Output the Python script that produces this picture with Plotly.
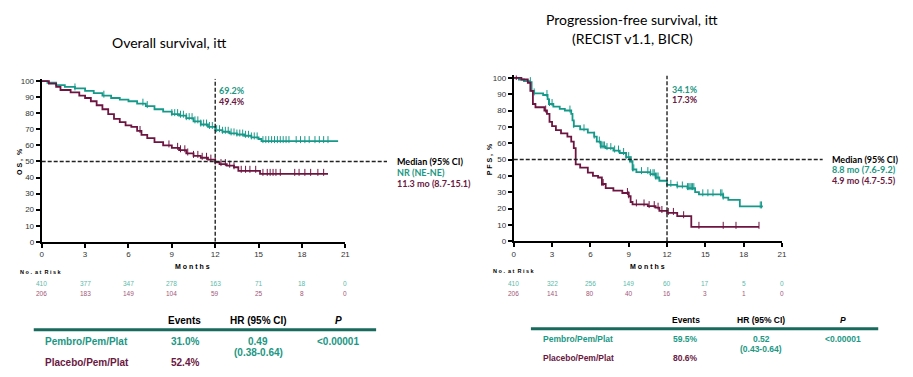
import numpy as np
import plotly.graph_objects as go

W, H = 913, 377

# ---------------- data ----------------
months_ticks = [0, 3, 6, 9, 12, 15, 18, 21]
pct_ticks = [0, 10, 20, 30, 40, 50, 60, 70, 80, 90, 100]

os_pembro_t = [0, 0.4, 1.0, 1.6, 2.3, 3.0, 3.6, 4.2, 4.8, 5.4, 6.0, 6.6, 7.2, 7.8, 8.4, 9.0, 9.5,
               10.0, 10.5, 11.0, 11.5, 12.0, 12.5, 13.0, 13.5, 14.0, 14.5, 15.0, 15.2, 20.5]
os_pembro_s = [100, 99, 97.5, 96.5, 95.5, 94, 92.5, 91, 89.5, 88.5, 87.5, 86, 84.5, 82.5, 81, 79.5, 78.5,
               77, 75, 73, 71.5, 69.5, 68.5, 67.5, 66.8, 66, 65, 64, 62.7, 62.7]
os_pembro_cens = [2.3, 4.3, 7.0, 7.3, 9.0, 9.2, 9.4, 9.6, 9.8, 10.0, 10.2, 10.4, 10.6, 10.8, 11.0, 11.2,
                  11.4, 11.6, 11.8, 12.1, 12.3, 12.5, 12.7, 12.9, 13.1, 13.3, 13.5, 13.7, 13.9, 14.1,
                  14.3, 14.5, 14.7, 14.9, 15.3, 15.5, 15.7, 15.9, 16.1, 16.3, 16.5, 16.7, 16.9, 17.1,
                  17.6, 17.9, 18.2, 18.5, 18.9, 19.2, 19.5, 19.8]

os_placebo_t = [0, 0.5, 1.0, 1.3, 2.0, 2.6, 3.0, 3.4, 3.8, 4.2, 4.6, 5.0, 5.4, 5.8, 6.2, 6.6, 6.9, 7.3,
                7.8, 8.4, 9.0, 9.5, 10.0, 10.5, 11.0, 11.5, 12.0, 12.3, 12.8, 13.3, 13.6, 15.1, 19.8]
os_placebo_s = [100, 98.5, 96.5, 94.5, 93, 91, 89.5, 87.5, 85, 82.5, 79.5, 76.5, 74.5, 72.5, 71.5, 69,
                66.5, 64.5, 62, 60, 58.5, 57, 55, 53.5, 52.3, 51.2, 49.4, 48.4, 47.4, 46.4, 44.2, 42.3, 42.3]
os_placebo_cens = [6.8, 8.8, 9.4, 9.6, 9.9, 10.1, 10.5, 10.8, 11.1, 11.4, 11.7, 12.0, 12.4, 12.7, 13.0,
                   13.3, 13.8, 14.1, 14.4, 14.8, 15.3, 15.6, 15.8, 16.0, 16.2, 16.5, 17.5, 17.8, 18.2,
                   18.6, 19.1, 19.5]

pfs_pembro_t = [0, 0.4, 0.8, 1.25, 1.4, 1.6, 2.3, 2.65, 2.75, 3.1, 3.6, 4.0, 4.5, 4.6, 4.7, 5.2, 5.8,
                6.3, 6.5, 6.8, 7.2, 7.8, 8.3, 8.8, 9.1, 9.3, 9.6, 10.7, 11.1, 11.4, 12.0, 12.8, 13.6,
                14.2, 14.5, 16.4, 16.8, 17.7, 19.5]
pfs_pembro_s = [100, 99, 98, 97.4, 92, 90.5, 89.5, 87, 84, 82.4, 81, 80, 78, 74, 70.5, 68.5, 66.5,
                64, 61, 58, 57, 55.5, 54, 51.5, 49, 44, 42.3, 41, 39, 37, 34.5, 33.5, 32.5,
                30, 28.7, 26.7, 25.3, 21.3, 21.3]
pfs_pembro_cens = [1.3, 1.6, 2.6, 2.8, 3.0, 4.4, 4.7, 5.5, 6.3, 6.7, 6.8, 6.9, 7.0, 7.1, 7.3, 7.6, 7.9,
                   8.2, 8.6, 8.8, 9.0, 9.1, 9.2, 9.3, 9.4, 10.0, 10.5, 10.7, 10.9, 11.0, 11.1, 11.2,
                   11.3, 12.3, 12.8, 13.2, 13.6, 13.7, 13.8, 13.9, 14.0, 14.1, 14.8, 15.2, 15.6,
                   16.2, 16.3, 16.4, 19.3, 19.4]

pfs_placebo_t = [0, 0.6, 1.1, 1.3, 1.5, 1.7, 2.4, 2.6, 2.8, 3.0, 3.3, 3.7, 4.2, 4.5, 4.7, 4.85, 5.2,
                 5.8, 6.2, 6.6, 6.9, 7.2, 7.8, 8.5, 9.0, 9.15, 9.3, 10.5, 11.1, 11.4, 12.0, 12.8,
                 13.9, 19.2]
pfs_placebo_s = [100, 99, 97, 92, 84, 82, 80, 78, 73, 70.5, 68, 66, 64, 61, 57, 47, 45,
                 42, 40, 39, 35, 32.5, 31, 29.5, 27.5, 24, 22.5, 21.5, 20.5, 18.5, 17.3, 15.3,
                 8.8, 8.8]
pfs_placebo_cens = [0.2, 2.5, 6.9, 7.0, 8.9, 9.0, 9.6, 10.2, 10.6, 11.0, 11.3, 11.6, 12.1, 12.5,
                    13.3, 14.5, 16.4, 17.4, 19.2]

os_risk_pembro = ["410", "377", "347", "278", "163", "71", "18", "0"]
os_risk_placebo = ["206", "183", "149", "104", "59", "25", "8", "0"]
pfs_risk_pembro = ["410", "322", "256", "149", "60", "17", "5", "0"]
pfs_risk_placebo = ["206", "141", "80", "40", "16", "3", "1", "0"]

os_landmark = ["69.2%", "49.4%"]
pfs_landmark = ["34.1%", "17.3%"]
os_median = ["Median (95% CI)", "NR (NE-NE)", "11.3 mo (8.7-15.1)"]
pfs_median = ["Median (95% CI)", "8.8 mo (7.6-9.2)", "4.9 mo (4.7-5.5)"]

table_header = ["Events", "HR (95% CI)", "<i>P</i>"]
arm_names = ["Pembro/Pem/Plat", "Placebo/Pem/Plat"]
os_events = ["31.0%", "52.4%"]
os_hr = ["0.49", "(0.38-0.64)"]
os_p = "<0.00001"
pfs_events = ["59.5%", "80.6%"]
pfs_hr = ["0.52", "(0.43-0.64)"]
pfs_p = "<0.00001"

# ---------------- styles ----------------
TEAL = "#17998a"
MAROON = "#6d1540"
TEAL_TXT = "#1b9784"
MAROON_TXT = "#6a1842"
TEAL_LT = "#5cb9a9"
MAROON_LT = "#a25779"
RULE = "#176a5c"
ARIAL = "Liberation Sans"
CAL = "Lato"


def step_at(ts, ss, t):
    i = np.searchsorted(np.asarray(ts), t, side="right") - 1
    return np.asarray(ss)[i]


def px(x):
    return x / W


def py(y):
    return 1 - y / H


fig = go.Figure()


def add_curve(ts, ss, cens, color, xa, ya):
    fig.add_trace(go.Scatter(x=ts, y=ss, mode="lines", line=dict(color=color, width=1.8, shape="hv"),
                             xaxis=xa, yaxis=ya, showlegend=False, hoverinfo="skip"))
    cy = [float(step_at(ts, ss, t)) + 0.9 for t in cens]
    fig.add_trace(go.Scatter(x=cens, y=cy, mode="markers",
                             marker=dict(symbol="line-ns", size=5, line=dict(color=color, width=1)),
                             xaxis=xa, yaxis=ya, showlegend=False, hoverinfo="skip"))


add_curve(os_pembro_t, os_pembro_s, os_pembro_cens, TEAL, "x", "y")
add_curve(os_placebo_t, os_placebo_s, os_placebo_cens, MAROON, "x", "y")
add_curve(pfs_pembro_t, pfs_pembro_s, pfs_pembro_cens, TEAL, "x2", "y2")
add_curve(pfs_placebo_t, pfs_placebo_s, pfs_placebo_cens, MAROON, "x2", "y2")

axis_common = dict(showgrid=False, zeroline=False, showline=True, linecolor="black", linewidth=2,
                   ticks="outside", ticklen=4, tickwidth=1.5, tickcolor="black",
                   tickfont=dict(family=ARIAL, size=8, color="#333"), fixedrange=True)

fig.update_layout(
    width=W, height=H, margin=dict(l=0, r=0, t=0, b=0),
    plot_bgcolor="white", paper_bgcolor="white",
    xaxis=dict(domain=[px(40), px(346)], range=[0, 21], tickvals=months_ticks, anchor="y", **axis_common),
    yaxis=dict(domain=[py(244.3), py(78.2)], range=[0, 101.5], tickvals=pct_ticks, anchor="x", **axis_common),
    xaxis2=dict(domain=[px(515.7), px(786)], range=[0, 21], tickvals=months_ticks, anchor="y2", **axis_common),
    yaxis2=dict(domain=[py(243.7), py(74.8)], range=[0, 101.5], tickvals=pct_ticks, anchor="x2", **axis_common),
)

# reference lines
for xa, ya, xend in [("x", "y", 388), ("x2", "y2", 827)]:
    x0 = fig.layout[("xaxis" if xa == "x" else "xaxis2")].domain[0]
    fig.add_shape(type="line", xref="paper", yref=ya, x0=x0, x1=px(xend), y0=50, y1=50,
                  line=dict(color="#222", width=1.4, dash="4px,2px"))
    fig.add_shape(type="line", xref=xa, yref=ya, x0=12, x1=12, y0=0, y1=101.5,
                  line=dict(color="#222", width=1.4, dash="4px,2px"))


def ann(x, y, text, size, color="black", family=CAL, xanchor="left", xref="paper", bold=False):
    if bold:
        text = "<b>" + text + "</b>"
    fig.add_annotation(x=x if xref != "paper" else px(x), y=py(y), xref=xref, yref="paper",
                       text=text, showarrow=False, xanchor=xanchor, yanchor="middle",
                       font=dict(family=family, size=size, color=color))


# titles
ann(169, 41, "Overall survival, itt", 14, "black", CAL, "center")
ann(635, 18, "Progression-free survival, itt", 14, "black", CAL, "center")
ann(635, 37, "(RECIST v1.1, BICR)", 14, "black", CAL, "center")

# axis titles
fig.add_annotation(x=px(12), y=py(162), xref="paper", yref="paper", text="<b>O S ,  %</b>", textangle=-90,
                   showarrow=False, font=dict(family=ARIAL, size=7, color="black"))
fig.add_annotation(x=px(492), y=py(160), xref="paper", yref="paper", text="<b>P F S ,  %</b>", textangle=-90,
                   showarrow=False, font=dict(family=ARIAL, size=7, color="black"))
ann(192, 270, "M o n t h s", 7, "black", ARIAL, "center", bold=True)
ann(650, 269, "M o n t h s", 7, "black", ARIAL, "center", bold=True)
ann(16, 275, "N o .  a t  R i s k", 5.5, "black", ARIAL, "left", bold=True)
ann(493, 274, "N o .  a t  R i s k", 5.5, "black", ARIAL, "left", bold=True)

# numbers at risk
for i, m in enumerate(months_ticks):
    ann(m, 287, os_risk_pembro[i], 6.5, TEAL_LT, ARIAL, "center", xref="x")
    ann(m, 297, os_risk_placebo[i], 6.5, MAROON_LT, ARIAL, "center", xref="x")
    ann(m, 287, pfs_risk_pembro[i], 6.5, TEAL_LT, ARIAL, "center", xref="x2")
    ann(m, 297, pfs_risk_placebo[i], 6.5, MAROON_LT, ARIAL, "center", xref="x2")

# landmark and median text
ann(217, 90, os_landmark[0], 9, TEAL_TXT, CAL, bold=True)
ann(217, 101, os_landmark[1], 9, MAROON_TXT, CAL, bold=True)
ann(396, 163, os_median[0], 9, "black", CAL, bold=True)
ann(396, 174, os_median[1], 9, TEAL_TXT, CAL, bold=True)
ann(396, 185, os_median[2], 9, MAROON_TXT, CAL, bold=True)

ann(673, 89, pfs_landmark[0], 9, TEAL_TXT, CAL, bold=True)
ann(673, 99, pfs_landmark[1], 9, MAROON_TXT, CAL, bold=True)
ann(834, 160, pfs_median[0], 9, "black", CAL, bold=True)
ann(834, 171, pfs_median[1], 9, TEAL_TXT, CAL, bold=True)
ann(834, 182, pfs_median[2], 9, MAROON_TXT, CAL, bold=True)

# tables
def table(xl, cols, y_head, y_rule, rows_y, x_rule, events, hr, p, fs):
    ann(cols[0], y_head, table_header[0], fs, "black", ARIAL, "center", bold=True)
    ann(cols[1], y_head, table_header[1], fs, "black", ARIAL, "center", bold=True)
    ann(cols[2], y_head, table_header[2], fs, "black", ARIAL, "center", bold=True)
    fig.add_shape(type="line", xref="paper", yref="paper", x0=px(x_rule[0]), x1=px(x_rule[1]),
                  y0=py(y_rule), y1=py(y_rule), line=dict(color=RULE, width=3))
    ann(xl, rows_y[0], arm_names[0], fs, TEAL_TXT, ARIAL, "left", bold=True)
    ann(xl, rows_y[1], arm_names[1], fs, MAROON_TXT, ARIAL, "left", bold=True)
    ann(cols[0], rows_y[0], events[0], fs, TEAL_TXT, ARIAL, "center", bold=True)
    ann(cols[0], rows_y[1], events[1], fs, MAROON_TXT, ARIAL, "center", bold=True)
    ann(cols[1], rows_y[0], hr[0], fs, TEAL_TXT, ARIAL, "center", bold=True)
    ann(cols[1], rows_y[0] + 11, hr[1], fs, TEAL_TXT, ARIAL, "center", bold=True)
    ann(cols[2], rows_y[0], p, fs, TEAL_TXT, ARIAL, "center", bold=True)


table(41, [184, 258, 339], 325, 334, [346, 367], [32, 377], os_events, os_hr, os_p, 10)
table(543, [689, 765, 847], 324, 333, [343, 363], [533, 883], pfs_events, pfs_hr, pfs_p, 8.5)

fig.write_html("out.html", config={"displayModeBar": False},
               post_script="document.body.style.margin='0px';document.body.style.overflow='hidden';")
